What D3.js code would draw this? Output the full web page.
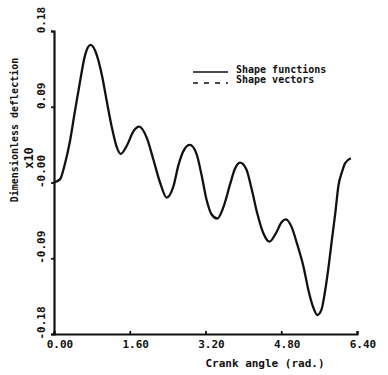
<!DOCTYPE html>
<html><head><meta charset="utf-8">
<script src="https://cdn.jsdelivr.net/npm/d3@7"></script>
<style>
body{margin:0;background:#fff;}
text{font-family:"DejaVu Sans Mono",monospace;font-weight:bold;fill:#111;}
</style></head>
<body><svg id="c" width="388" height="375"></svg>
<script>
// Data
const crankAngle = [0.00,0.13,0.23,0.34,0.44,0.55,0.655,0.775,0.90,1.01,1.11,1.22,1.32,1.41,1.54,1.68,1.80,1.96,2.10,2.24,2.38,2.52,2.63,2.75,2.87,3.01,3.12,3.22,3.33,3.45,3.58,3.72,3.82,3.93,4.06,4.18,4.29,4.42,4.55,4.69,4.81,4.90,5.02,5.14,5.27,5.37,5.48,5.56,5.65,5.72,5.80,5.87,5.94,6.01,6.08,6.15,6.27];
const shapeFunctions = [0.000,0.004,0.022,0.050,0.084,0.120,0.151,0.1634,0.152,0.128,0.098,0.066,0.043,0.034,0.044,0.061,0.0663,0.053,0.027,0.000,-0.018,-0.005,0.021,0.039,0.0446,0.034,0.008,-0.020,-0.038,-0.0428,-0.029,-0.002,0.016,0.0235,0.016,-0.009,-0.036,-0.060,-0.0703,-0.060,-0.047,-0.0437,-0.053,-0.074,-0.100,-0.127,-0.149,-0.1574,-0.151,-0.131,-0.100,-0.068,-0.037,-0.003,0.012,0.023,0.0288];
const xTicks = [0.00,1.60,3.20,4.80,6.40];
const xTickLabels = ["0.00","1.60","3.20","4.80","6.40"];
const yTicks = [0.18,0.09,0.00,-0.09,-0.18];
const yTickLabels = ["0.18","0.09","-0.00","-0.09","-0.18"];
const legendLabels = ["Shape functions","Shape vectors"];

const svg = d3.select("#c");
const x = d3.scaleLinear().domain([0,6.4]).range([54,357]);
const y = d3.scaleLinear().domain([-0.18,0.18]).range([334,31]);

// axes
const xa = svg.append("g").attr("transform","translate(0,334)")
  .call(d3.axisBottom(x).tickValues(xTicks).tickSize(-3).tickFormat(""));
const ya = svg.append("g").attr("transform","translate(54,0)")
  .call(d3.axisLeft(y).tickValues(yTicks).tickSize(3).tickFormat(""));
[xa,ya].forEach(g=>{
  g.select(".domain").attr("stroke","#111").attr("stroke-width",2.2);
  g.selectAll(".tick line").attr("stroke","#111").attr("stroke-width",1.8);
});

// x tick labels
svg.append("g").selectAll("text").data(xTicks).join("text")
  .attr("x",d=>x(d)+6).attr("y",348)
  .attr("text-anchor","middle").attr("font-size",11)
  .text((d,i)=>xTickLabels[i]);

// y tick labels (rotated)
svg.append("g").selectAll("text").data(yTicks).join("text")
  .attr("transform",d=>`translate(45,${y(d)-11}) rotate(-90)`)
  .attr("text-anchor","middle").attr("font-size",11)
  .text((d,i)=>yTickLabels[i]);

// axis titles
svg.append("text").attr("x",265).attr("y",367).attr("text-anchor","middle")
  .attr("font-size",11).text("Crank angle (rad.)");
svg.append("text").attr("transform","translate(18,130) rotate(-90)")
  .attr("text-anchor","middle").attr("font-size",10).text("Dimensionless deflection");
svg.append("text").attr("transform","translate(33,158) rotate(-90)")
  .attr("text-anchor","middle").attr("font-size",12).text("x10");

// curves
const pts = crankAngle.map((a,i)=>[a,shapeFunctions[i]]);
const line = d3.line().x(d=>x(d[0])).y(d=>y(d[1])).curve(d3.curveMonotoneX);
svg.append("path").datum(pts).attr("d",line)
  .attr("fill","none").attr("stroke","#111").attr("stroke-width",2.3);

// legend
const lg = svg.append("g");
lg.append("line").attr("x1",193).attr("x2",228).attr("y1",72).attr("y2",72)
  .attr("stroke","#111").attr("stroke-width",1.6);
lg.append("line").attr("x1",193).attr("x2",228).attr("y1",83).attr("y2",83)
  .attr("stroke","#111").attr("stroke-width",1.6).attr("stroke-dasharray","5,6");
lg.selectAll("text").data(legendLabels).join("text")
  .attr("x",236).attr("y",(d,i)=>73+i*10).attr("font-size",10)
  .text(d=>d);
</script></body></html>
